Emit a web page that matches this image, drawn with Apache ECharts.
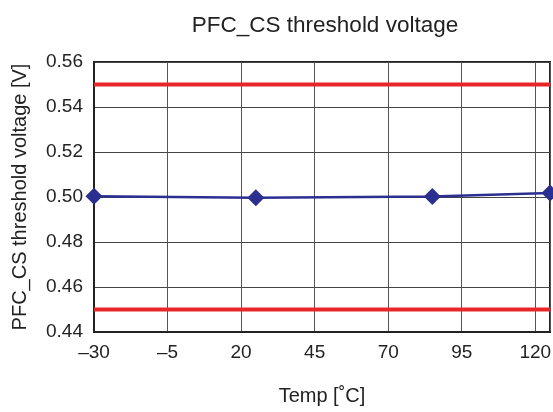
<!DOCTYPE html>
<html><head><meta charset="utf-8">
<script src="https://cdn.jsdelivr.net/npm/echarts@6/dist/echarts.min.js"></script>
<style>html,body{margin:0;padding:0;background:#fff}#c{width:553px;height:412px}</style>
</head><body><div id="c"></div>
<script>
const temps = [-30, 25, 85, 125];
const voltages = [0.5003, 0.4997, 0.5002, 0.5018];
const limitTemps = [-30, 125];
const upperLimit = [0.55, 0.55];
const lowerLimit = [0.45, 0.45];
const xTicks = [-30, -5, 20, 45, 70, 95, 120];

const FONT = 'Liberation Sans';
const chart = echarts.init(document.getElementById('c'));
chart.setOption({
  animation: false,
  title: { text: 'PFC_CS threshold voltage', left: 320, textAlign: 'center', top: 9,
    textStyle: { fontFamily: FONT, fontSize: 22.5, fontWeight: 'normal', color: '#222' } },
  grid: { left: 94, right: 3, top: 62, bottom: 80, show: true, borderColor: '#222', borderWidth: 2,
    containLabel: false, outerBoundsMode: 'none' },
  xAxis: {
    type: 'value', min: -30, max: 125, interval: 25,
    name: 'Temp [˚C]', nameLocation: 'middle', nameGap: 54,
    nameTextStyle: { fontFamily: FONT, fontSize: 20, color: '#222' },
    axisLine: { show: true, onZero: false, lineStyle: { color: '#222', width: 2 } },
    axisTick: { show: false },
    axisLabel: { fontFamily: FONT, fontSize: 19, color: '#222', margin: 11, showMaxLabel: false,
      formatter: v => xTicks.includes(v) ? String(v).replace('-', '–') : '' },
    splitLine: { show: true, lineStyle: { color: '#555', width: 1 } }
  },
  yAxis: {
    type: 'value', min: 0.44, max: 0.56, interval: 0.02,
    name: 'PFC_CS threshold voltage [V]', nameLocation: 'middle', nameGap: 64,
    nameTextStyle: { fontFamily: FONT, fontSize: 20, color: '#222' },
    axisLine: { show: true, onZero: false, lineStyle: { color: '#222', width: 2 } },
    axisTick: { show: false },
    axisLabel: { fontFamily: FONT, fontSize: 19, color: '#222', margin: 11, formatter: v => v.toFixed(2) },
    splitLine: { show: true, lineStyle: { color: '#444', width: 1 } }
  },
  series: [
    { type: 'line', data: limitTemps.map((t, i) => [t, upperLimit[i]]), symbol: 'none',
      lineStyle: { color: '#E8262A', width: 4 }, z: 3 },
    { type: 'line', data: limitTemps.map((t, i) => [t, lowerLimit[i]]), symbol: 'none',
      lineStyle: { color: '#E8262A', width: 4 }, z: 3 },
    { type: 'line', data: temps.map((t, i) => [t, voltages[i]]), symbol: 'diamond', symbolSize: 17,
      itemStyle: { color: '#2B3090' }, lineStyle: { color: '#2B3090', width: 2.5 }, z: 4 }
  ]
});
</script></body></html>
